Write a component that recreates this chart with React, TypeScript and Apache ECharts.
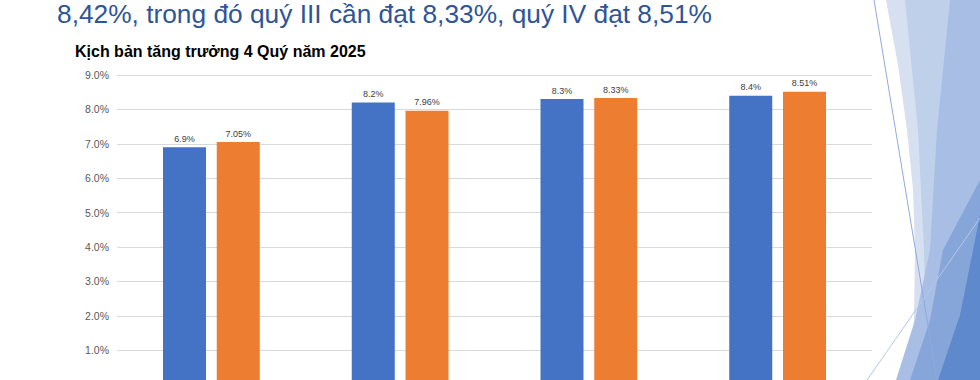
import React, { useEffect, useRef } from "react";
import * as echarts from "echarts";

const categories = ["Quý I", "Quý II", "Quý III", "Quý IV"];
const seriesNames = ["Kịch bản 1", "Kịch bản 2"];
const blueValues = [6.9, 8.2, 8.3, 8.4];
const orangeValues = [7.05, 7.96, 8.33, 8.51];
const yTicks = { min: 0, max: 9, interval: 1 };
const headline = "8,42%, trong đó quý III cần đạt 8,33%, quý IV đạt 8,51%";
const chartTitle = "Kịch bản tăng trưởng 4 Quý năm 2025";

const FONT = "'Liberation Sans', Arial, sans-serif";
const W = 980;
const H = 400;

export default function App() {
  const ref = useRef<HTMLDivElement>(null);
  useEffect(() => {
    if (!ref.current) return;
    document.body.style.overflow = "hidden";
    const chart = echarts.init(ref.current, undefined, { renderer: "svg", width: W, height: H });
    const deco: any[] = [
      { type: "polygon", silent: true, z: 1, shape: { points: [[886, 0], [980, 0], [980, 380], [912, 380], [914, 315], [915, 250], [913, 190], [907, 130], [898, 65]] }, style: { fill: "#D6E0F1" } },
      { type: "polygon", silent: true, z: 2, shape: { points: [[905, 0], [980, 0], [980, 380], [927, 380], [924, 250], [918, 130]] }, style: { fill: "#BED0EA" } },
      { type: "polygon", silent: true, z: 3, shape: { points: [[950, 0], [980, 0], [980, 380], [896, 380], [915, 320], [930, 250], [937, 130]] }, style: { fill: "#A8BEE4" } },
      { type: "polygon", silent: true, z: 4, shape: { points: [[980, 180], [980, 380], [910, 380], [930, 320], [943, 250]] }, style: { fill: "#86A6DA" } },
      { type: "polygon", silent: true, z: 5, shape: { points: [[980, 215], [980, 380], [938, 380], [960, 315], [973, 250]] }, style: { fill: "#5E89CC" } },
      { type: "line", silent: true, z: 6, shape: { x1: 874, y1: 0, x2: 937, y2: 380 }, style: { stroke: "#8FAADC", lineWidth: 1 } },
      { type: "line", silent: true, z: 6, shape: { x1: 980, y1: 218, x2: 867, y2: 380 }, style: { stroke: "#B4C7E7", lineWidth: 1 } },
      {
        type: "text", silent: true, z: 7, x: 57, y: 14,
        style: { text: headline, fill: "#2E5597", font: `26.3px ${FONT}`, textVerticalAlign: "middle", textAlign: "left" },
      },
      {
        type: "text", silent: true, z: 7, x: 75, y: 51.5,
        style: { text: chartTitle, fill: "#000000", font: `bold 16px ${FONT}`, textVerticalAlign: "middle", textAlign: "left" },
      },
    ];
    chart.setOption({
      animation: false,
      backgroundColor: "#ffffff",
      textStyle: { fontFamily: FONT },
      graphic: { elements: deco },
      grid: { left: 117, right: 108, top: 75, bottom: H - 384.7, containLabel: false },
      xAxis: {
        type: "category",
        data: categories,
        axisLine: { show: true, lineStyle: { color: "#D9D9D9" } },
        axisTick: { show: false },
        axisLabel: { show: false, color: "#595959", fontSize: 10.5 },
      },
      yAxis: {
        type: "value",
        min: yTicks.min,
        max: yTicks.max,
        interval: yTicks.interval,
        axisLine: { show: false },
        axisTick: { show: false },
        splitLine: { lineStyle: { color: "#D9D9D9", width: 1 } },
        axisLabel: {
          color: "#595959",
          fontSize: 10.5,
          margin: 8,
          showMinLabel: false,
          formatter: (v: number) => `${v.toFixed(1)}%`,
        },
      },
      series: [
        {
          name: seriesNames[0],
          type: "bar",
          data: blueValues,
          barWidth: 43,
          barGap: "25%",
          itemStyle: { color: "#4472C4" },
          label: {
            show: true, position: "top", distance: 4,
            color: "#404040", fontSize: 9,
            formatter: (p: any) => `${p.value}%`,
          },
          z: 10,
        },
        {
          name: seriesNames[1],
          type: "bar",
          data: orangeValues,
          barWidth: 43,
          itemStyle: { color: "#ED7D31" },
          label: {
            show: true, position: "top", distance: 4,
            color: "#404040", fontSize: 9,
            formatter: (p: any) => `${p.value}%`,
          },
          z: 10,
        },
      ],
    });
    return () => chart.dispose();
  }, []);
  return (
    <div
      ref={ref}
      style={{ position: "fixed", left: 0, top: 0, width: W, height: H, overflow: "hidden" }}
    />
  );
}
